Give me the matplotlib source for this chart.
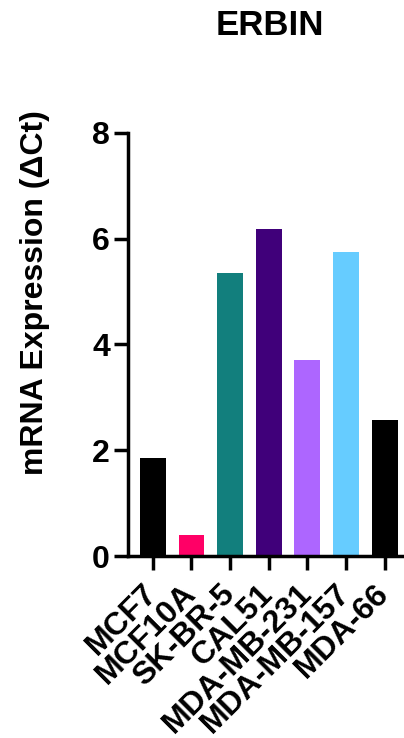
import matplotlib
matplotlib.use("Agg")
import matplotlib.pyplot as plt

## cell lines and delta Ct values ##

cell_lines = ["MCF7", "MCF10A", "SK-BR-5", "CAL51", "MDA-MB-231", "MDA-MB-157", "MDA-66"]
delta_ct = [1.85, 0.40, 5.36, 6.18, 3.71, 5.75, 2.58]
bar_colors = ["#000000", "#ff0066", "#127f7d", "#40007a", "#ad66ff", "#66ccff", "#000000"]

## figure setup ##

plt.rcParams['font.family'] = ['Liberation Sans', 'DejaVu Sans']
plt.rcParams['font.weight'] = 'bold'

fig = plt.figure(figsize=(4.04, 7.38), dpi=100)
ax = fig.add_axes([0.317, 0.2466, 0.683, 0.5732])

x = range(len(cell_lines))
ax.bar(x, delta_ct, width=0.67, color=bar_colors)

ax.set_xlim(-0.64, 6.5)
ax.set_ylim(0, 8)
ax.set_yticks([0, 2, 4, 6, 8])
ax.set_xticks(list(x))
ax.set_xticklabels(cell_lines, rotation=45, ha='right', va='center', rotation_mode='anchor',
                   fontsize=23, fontweight='bold')
ax.tick_params(axis='y', labelsize=23, width=2.5, length=10, pad=3)
ax.tick_params(axis='x', width=2.5, length=10, pad=14)
for lbl in ax.get_yticklabels():
    lbl.set_fontweight('bold')

for side in ['top', 'right']:
    ax.spines[side].set_visible(False)
for side in ['left', 'bottom']:
    ax.spines[side].set_linewidth(2.5)

fig.text(0.087, 0.603, "mRNA Expression (\u0394Ct)", rotation=90, ha='center', va='center',
         fontsize=23, fontweight='bold')
fig.text(0.668, 0.965, "ERBIN", ha='center', va='center', fontsize=25, fontweight='bold')

fig.savefig("out.png", dpi=100)
